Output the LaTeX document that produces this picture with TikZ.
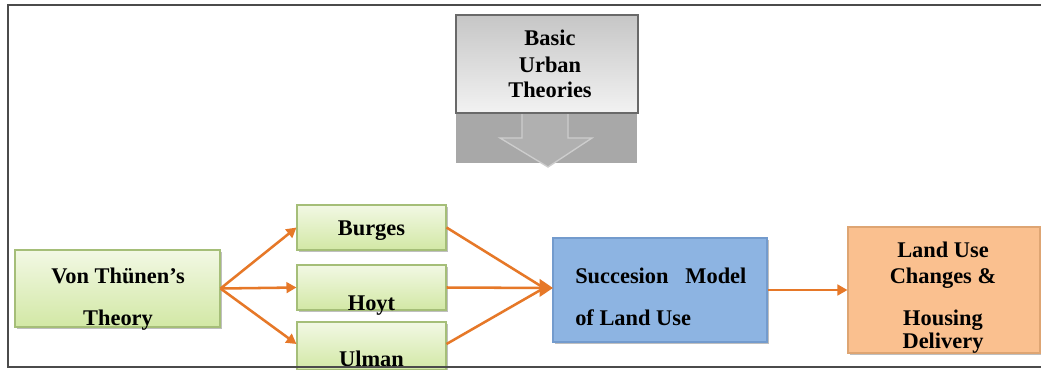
\documentclass[tikz,border=0pt]{standalone}
\usepackage{fontspec}
\setmainfont{Liberation Serif}
\usetikzlibrary{arrows.meta,shadows}
\definecolor{framec}{RGB}{75,75,75}
\definecolor{arrc}{RGB}{230,120,40}
\definecolor{greentop}{RGB}{242,248,228}
\definecolor{greenbot}{RGB}{210,232,165}
\definecolor{greenbd}{RGB}{165,190,120}
\definecolor{bluef}{RGB}{141,180,226}
\definecolor{bluebd}{RGB}{115,155,205}
\definecolor{orf}{RGB}{250,192,143}
\definecolor{orbd}{RGB}{222,165,115}
\definecolor{graytop}{RGB}{198,198,198}
\definecolor{graybot}{RGB}{242,242,242}
\definecolor{graybd}{RGB}{105,105,105}
\definecolor{bandc}{RGB}{168,168,168}
\definecolor{arrowgc}{RGB}{176,176,176}
\definecolor{arrowbd}{RGB}{205,205,205}
\tikzset{
  x=0.75pt, y=-0.75pt,
  box/.style={rectangle, inner sep=0pt, line width=0.8pt,
    drop shadow={shadow xshift=1.5pt, shadow yshift=-1.5pt, opacity=0.25, fill=black}},
  greenbox/.style={box, draw=greenbd, top color=greentop, bottom color=greenbot},
  bluebox/.style={box, draw=bluebd, fill=bluef},
  orbox/.style={box, draw=orbd, fill=orf},
  txt/.style={anchor=base, inner sep=0pt, font=\fontsize{16.8}{20}\selectfont\bfseries},
  conn/.style={draw=arrc, line width=1.9pt, -{Triangle[length=7.5pt,width=8pt]}},
  connplain/.style={draw=arrc, line width=1.9pt},
}
\begin{document}
\begin{tikzpicture}
\useasboundingbox (0,0) rectangle (1041,369);
\fill[white] (0,0) rectangle (1041,369);

% top callout
\fill[bandc] (456,113) rectangle (637,163);
\filldraw[fill=arrowgc, draw=arrowbd, line width=1pt]
  (522,112) -- (522,138) -- (500,138) -- (548,167) -- (592,138) -- (568,138) -- (568,112);
\node[rectangle, inner sep=0pt, draw=graybd, line width=0.8pt, top color=graytop, bottom color=graybot,
  minimum width=182*0.75pt, minimum height=98*0.75pt] (basic) at (547,64) {};
\node[txt] (basicA) at (550,45) {Basic};
\node[txt] (basicB) at (550,72) {Urban};
\node[txt] (basicC) at (550,97) {Theories};

% boxes
\node[greenbox, minimum width=205*0.75pt, minimum height=77*0.75pt] (von) at (117.5,288.5) {};
\node[greenbox, minimum width=149*0.75pt, minimum height=45*0.75pt] (burges) at (371.5,227.5) {};
\node[greenbox, minimum width=149*0.75pt, minimum height=45*0.75pt] (hoyt) at (371.5,287.5) {};
\node[greenbox, minimum width=149*0.75pt, minimum height=48*0.75pt] (ulman) at (371.5,346) {};
\node[bluebox, minimum width=214*0.75pt, minimum height=104*0.75pt] (succ) at (660,290) {};
\node[orbox, minimum width=192*0.75pt, minimum height=126*0.75pt] (land) at (944,290) {};

% texts
\node[txt] (vonA) at (118,283) {Von Thünen’s};
\node[txt] (vonB) at (118,325) {Theory};
\node[txt] (burgesT) at (371.5,235) {Burges};
\node[txt] (hoytT) at (371.5,310) {Hoyt};
\node[txt] (ulmanT) at (371.5,366) {Ulman};
\node[txt, anchor=base west] (succA) at (575,283) {Succesion\enspace\ Model};
\node[txt, anchor=base west] (succB) at (575,325) {of Land Use};
\node[txt] (landA) at (943,257) {Land Use};
\node[txt] (landB) at (943,283) {Changes \&};
\node[txt] (landC) at (943,325) {Housing};
\node[txt] (landD) at (943,348) {Delivery};

% connectors
\coordinate (conv) at (553,288);
\coordinate (convin) at (544,288);
\draw[conn] (von.east) -- (burges.west);
\draw[conn] (von.east) -- (hoyt.west);
\draw[conn] (von.east) -- ([yshift=1.5pt]ulman.west);
\draw[connplain] (burges.east) -- (convin);
\draw[connplain] ([yshift=1.5pt]ulman.east) -- (convin);
\draw[draw=arrc, line width=1.9pt, -{Triangle[length=10pt,width=13pt]}] (hoyt.east) -- (conv);
\draw[conn] (succ.east) -- (land.west);

% frame
\draw[framec, line width=1.6pt] (1041,5) -- (8,5) -- (8,367) -- (1041,367);
\end{tikzpicture}
\end{document}
